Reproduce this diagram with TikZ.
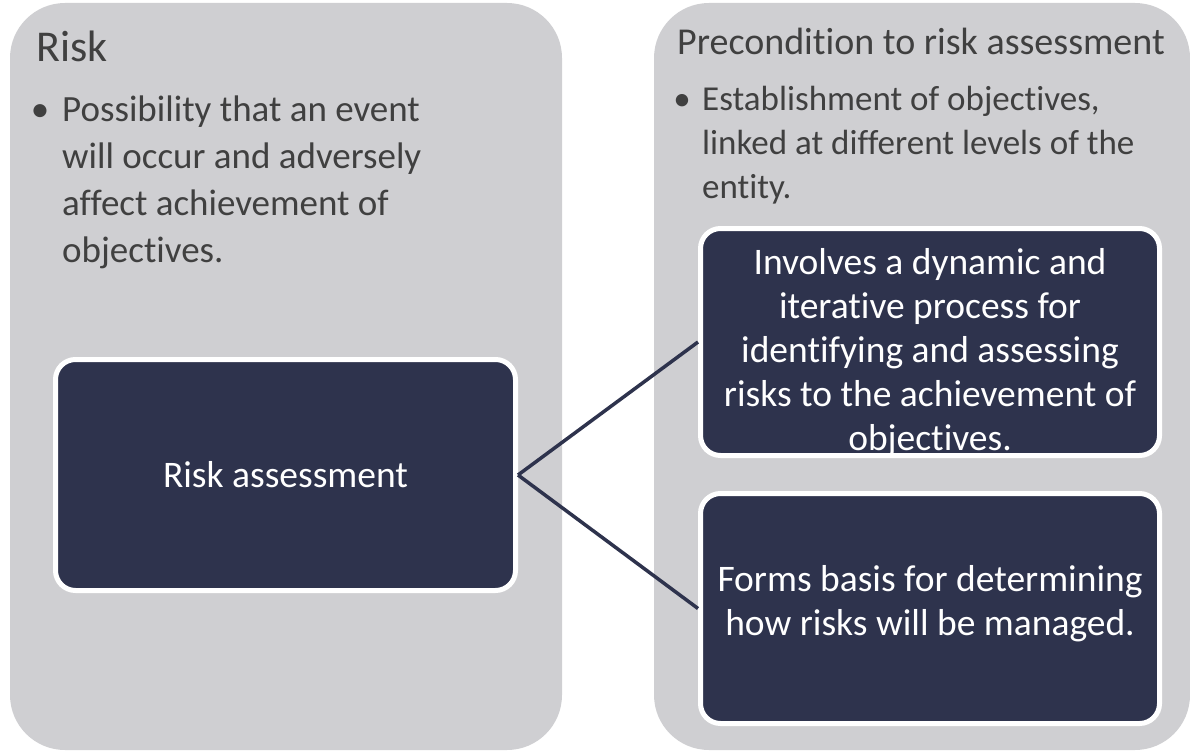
\documentclass[tikz,border=0pt]{standalone}
\usepackage{fontspec}
\setmainfont{Carlito}[Ligatures=NoCommon]
\definecolor{panelgray}{RGB}{207,207,210}
\definecolor{navy}{RGB}{46,51,77}
\definecolor{inkgray}{RGB}{64,64,64}
\begin{document}
\begin{tikzpicture}[x=1pt,y=-1pt,
  panel/.style={fill=panelgray, draw=none, rounded corners=55pt, inner sep=0pt},
  darkbox/.style={fill=navy, draw=white, line width=5pt, rounded corners=20pt, inner sep=0pt},
  boxtext/.style={text=white, align=center, inner sep=0pt, font=\fontsize{37.5}{44}\selectfont},
  heading/.style={text=inkgray, inner sep=0pt, anchor=base west},
  bulletmark/.style={text=inkgray, inner sep=0pt, anchor=base},
  bodytext/.style={text=inkgray, inner sep=0pt, align=left, anchor=base west},
  link/.style={draw=navy, line width=3.5pt}
]
\useasboundingbox (0,0) rectangle (1190,752);

% two grey panels
\node[panel, minimum width=552pt, minimum height=747pt] (riskpanel) at (286,376.5) {};
\node[panel, minimum width=536pt, minimum height=747pt] (precondpanel) at (922,376.5) {};

% left panel text (base anchor sits on the last line)
\node[heading, font=\fontsize{44}{53}\selectfont] (riskhead) at (36,62) {Risk};
\node[bulletmark, font=\fontsize{37}{47}\selectfont] (riskbullet) at (40,121) {•};
\node[bodytext, font=\fontsize{37}{47}\selectfont] (riskdef) at (62,262)
  {Possibility that an event\\will occur and adversely\\affect achievement of\\objectives.};

% right panel text
\node[heading, font=\fontsize{38}{46}\selectfont] (precondhead) at (677,55) {Precondition to risk assessment};
\node[bulletmark, font=\fontsize{35}{44}\selectfont] (precondbullet) at (682,110) {•};
\node[bodytext, font=\fontsize{35}{44}\selectfont] (precondtext) at (702,198)
  {Establishment of objectives,\\linked at different levels of the\\entity.};

% dark boxes
\node[darkbox, minimum width=460pt, minimum height=231pt] (assess) at (285.5,475) {};
\node[darkbox, minimum width=459pt, minimum height=227pt] (process) at (930,342) {};
\node[darkbox, minimum width=459pt, minimum height=230pt] (basis) at (930,608.5) {};

\node[boxtext] (assesstext) at (assess.center) {Risk assessment};
\node[boxtext] (processtext) at ([yshift=-11pt]process.center)
  {Involves a dynamic and\\iterative process for\\identifying and assessing\\risks to the achievement of\\objectives.};
\node[boxtext] (basistext) at ([yshift=5pt]basis.center)
  {Forms basis for determining\\how risks will be managed.};

% connectors
\draw[link] (assess.east) -- (process.west);
\draw[link] (assess.east) -- (basis.west);
\end{tikzpicture}
\end{document}
